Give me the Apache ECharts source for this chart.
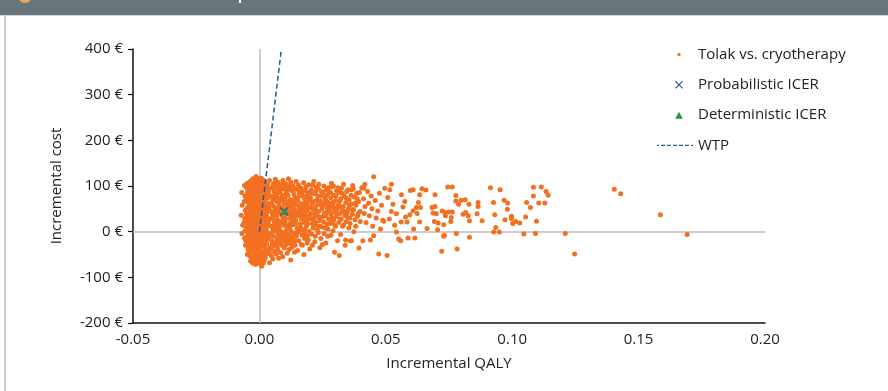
<!DOCTYPE html>
<html>
<head>
<meta charset="utf-8">
<script src="https://cdn.jsdelivr.net/npm/echarts@6/dist/echarts.min.js"></script>
<style>
  html, body { margin: 0; padding: 0; background: #fff; }
  #chart { width: 888px; height: 391px; }
</style>
</head>
<body>
<div id="chart"></div>
<script>
// simulated ICER pairs [incremental QALY, incremental cost €]
var cloudCore = [
  [-0.0070,86],[-0.0068,58],[-0.0072,36],[-0.0066,14],[-0.0069,-4],
  [-0.0059,101],[-0.0057,78],[-0.0060,66],[-0.0056,47],[-0.0058,29],[-0.0061,20],[-0.0057,2],[-0.0059,-14],[-0.0055,-30],
  [-0.0052,97],[-0.0053,70],[-0.0051,40],[-0.0052,9],[-0.0054,-20],
  [-0.0048,106],[-0.0046,93],[-0.0047,85],[-0.0049,73],[-0.0045,65],[-0.0047,53],[-0.0046,45],[-0.0048,33],[-0.0047,25],[-0.0045,13],[-0.0049,5],[-0.0046,-7],[-0.0048,-15],[-0.0047,-27],[-0.0045,-38],[-0.0048,-50],
  [-0.0041,102],[-0.0042,82],[-0.0040,61],[-0.0041,41],[-0.0043,21],[-0.0040,0],[-0.0042,-19],[-0.0041,-45],
  [-0.0035,111],[-0.0037,98],[-0.0036,90],[-0.0034,78],[-0.0038,70],[-0.0036,58],[-0.0035,50],[-0.0037,38],[-0.0036,30],[-0.0034,18],[-0.0038,10],[-0.0036,-2],[-0.0035,-10],[-0.0037,-22],[-0.0036,-30],[-0.0034,-42],[-0.0038,-53],[-0.0035,-64],
  [-0.0030,108],[-0.0031,87],[-0.0029,67],[-0.0030,47],[-0.0032,27],[-0.0029,7],[-0.0031,-13],[-0.0030,-33],[-0.0032,-58],
  [-0.0026,116],[-0.0024,103],[-0.0025,95],[-0.0027,83],[-0.0023,75],[-0.0025,63],[-0.0026,55],[-0.0024,43],[-0.0025,35],[-0.0027,23],[-0.0023,15],[-0.0025,3],[-0.0026,-5],[-0.0024,-17],[-0.0025,-25],[-0.0027,-37],[-0.0023,-46],[-0.0025,-58],[-0.0026,-69],
  [-0.0019,113],[-0.0020,93],[-0.0018,72],[-0.0019,52],[-0.0021,32],[-0.0018,12],[-0.0020,-8],[-0.0019,-28],[-0.0021,-48],[-0.0018,-65],
  [-0.0013,121],[-0.0015,108],[-0.0014,98],[-0.0012,88],[-0.0016,78],[-0.0014,68],[-0.0013,58],[-0.0015,48],[-0.0014,38],[-0.0012,28],[-0.0016,18],[-0.0014,8],[-0.0013,-2],[-0.0015,-12],[-0.0014,-22],[-0.0012,-32],[-0.0016,-42],[-0.0014,-52],[-0.0013,-62],[-0.0015,-72],
  [-0.0008,117],[-0.0009,97],[-0.0007,77],[-0.0008,57],[-0.0010,37],[-0.0007,17],[-0.0009,-3],[-0.0008,-23],[-0.0010,-43],[-0.0007,-62],
  [-0.0004,112],[-0.0002,102],[-0.0003,92],[-0.0005,82],[-0.0001,72],[-0.0003,62],[-0.0004,52],[-0.0002,42],[-0.0003,32],[-0.0005,22],[-0.0001,12],[-0.0003,2],[-0.0004,-8],[-0.0002,-18],[-0.0003,-28],[-0.0005,-38],[-0.0001,-48],[-0.0003,-58],[-0.0004,-67],
  [0.0003,108],[0.0002,90],[0.0004,71],[0.0003,51],[0.0001,31],[0.0004,11],[0.0002,-9],[0.0003,-29],[0.0001,-51],[0.0004,-71],
  [0.0007,117],[0.0009,106],[0.0008,96],[0.0006,86],[0.0010,76],[0.0008,66],[0.0007,56],[0.0009,46],[0.0008,36],[0.0006,26],[0.0010,16],[0.0008,6],[0.0007,-4],[0.0009,-14],[0.0008,-24],[0.0006,-34],[0.0010,-44],[0.0008,-55],[0.0007,-66],[0.0009,-76],
  [0.0014,113],[0.0013,93],[0.0015,73],[0.0014,53],[0.0012,33],[0.0015,13],[0.0013,-7],[0.0014,-27],[0.0012,-47],[0.0015,-69],
  [0.0020,110],[0.0018,99],[0.0019,89],[0.0021,79],[0.0017,69],[0.0019,59],[0.0020,49],[0.0018,39],[0.0019,29],[0.0021,19],[0.0017,9],[0.0019,-1],[0.0020,-11],[0.0018,-21],[0.0019,-31],[0.0021,-41],[0.0017,-52],[0.0019,-63],
  [0.0025,98],[0.0024,78],[0.0026,58],[0.0025,38],[0.0023,18],[0.0026,-2],[0.0024,-22],[0.0025,-43],[0.0023,-57],
  [0.0031,104],[0.0029,93],[0.0030,83],[0.0032,73],[0.0028,63],[0.0030,53],[0.0031,43],[0.0029,33],[0.0030,23],[0.0032,13],[0.0028,3],[0.0030,-7],[0.0031,-17],[0.0029,-27],[0.0030,-38],[0.0032,-49]
];

var cloudNear = [
  [0.0036,87],[0.0038,52],[0.0035,20],[0.0037,-12],[0.0039,-44],
  [0.0040,112],[0.0042,95],[0.0045,78],[0.0041,60],[0.0048,44],[0.0043,28],[0.0046,12],[0.0044,-4],[0.0049,-20],[0.0042,-35],[0.0047,-52],[0.0040,-68],
  [0.0050,96],[0.0048,63],[0.0051,30],[0.0049,-2],[0.0047,-36],
  [0.0055,104],[0.0058,88],[0.0053,71],[0.0057,55],[0.0052,38],[0.0059,22],[0.0054,6],[0.0056,-10],[0.0051,-27],[0.0058,-43],[0.0053,-60],
  [0.0060,106],[0.0058,73],[0.0061,41],[0.0059,9],[0.0062,-24],
  [0.0063,115],[0.0066,97],[0.0062,81],[0.0068,66],[0.0064,49],[0.0067,33],[0.0061,17],[0.0065,1],[0.0069,-16],[0.0063,-32],[0.0066,-49],
  [0.0070,99],[0.0068,82],[0.0070,50],[0.0069,17],[0.0071,-32],
  [0.0073,108],[0.0076,91],[0.0071,74],[0.0078,58],[0.0074,41],[0.0072,25],[0.0077,9],[0.0075,-7],[0.0079,-24],[0.0073,-40],[0.0076,-58],
  [0.0080,92],[0.0079,66],[0.0080,44],[0.0078,12],[0.0081,-21],
  [0.0084,100],[0.0082,85],[0.0087,68],[0.0083,52],[0.0088,36],[0.0085,19],[0.0081,3],[0.0086,-13],[0.0089,-30],[0.0084,-46],
  [0.0089,104],[0.0088,76],[0.0090,52],[0.0089,22],[0.0090,-8],
  [0.0093,112],[0.0096,94],[0.0092,77],[0.0098,61],[0.0094,30],[0.0097,14],[0.0091,-2],[0.0095,-19],[0.0099,-36],[0.0092,-55],
  [0.0100,97],[0.0099,80],[0.0101,47],[0.0100,30],[0.0100,-3],[0.0101,-20],
  [0.0104,105],[0.0107,88],[0.0102,72],[0.0109,55],[0.0105,38],[0.0101,22],[0.0108,5],[0.0103,-12],[0.0106,-28],[0.0110,-47],
  [0.0110,92],[0.0111,64],[0.0109,39],[0.0110,14],[0.0111,-13],
  [0.0115,116],[0.0118,97],[0.0113,80],[0.0117,63],[0.0112,46],[0.0119,29],[0.0114,13],[0.0116,-5],[0.0111,-22],[0.0118,-39],
  [0.0120,100],[0.0121,58],[0.0119,44],[0.0120,8],[0.0121,-26],
  [0.0124,108],[0.0127,90],[0.0122,70],[0.0128,52],[0.0125,35],[0.0121,18],[0.0126,0],[0.0123,-17],[0.0129,-34],[0.0124,-62],
  [0.0130,90],[0.0129,57],[0.0130,40],[0.0131,23],[0.0130,-12],
  [0.0134,100],[0.0137,82],[0.0132,66],[0.0138,48],[0.0135,31],[0.0131,15],[0.0136,-3],[0.0133,-24],[0.0139,-45],
  [0.0140,74],[0.0141,66],[0.0139,33],[0.0140,16],[0.0141,-20],
  [0.0145,110],[0.0143,93],[0.0148,75],[0.0142,58],[0.0147,41],[0.0144,24],[0.0149,7],[0.0146,-10],[0.0141,-30],
  [0.0150,94],[0.0150,59],[0.0149,43],[0.0151,-2],
  [0.0155,102],[0.0158,85],[0.0153,68],[0.0157,51],[0.0152,34],[0.0159,17],[0.0154,-1],[0.0156,-20],[0.0151,-41],
  [0.0160,86],[0.0161,53],[0.0159,36],[0.0160,3],
  [0.0165,95],[0.0162,78],[0.0168,61],[0.0164,44],[0.0167,27],[0.0163,10],[0.0169,-8],[0.0166,-28],
  [0.0170,80],[0.0171,47],[0.0169,30],[0.0170,-30],
  [0.0175,107],[0.0172,89],[0.0178,72],[0.0174,55],[0.0171,38],[0.0177,20],[0.0173,3],[0.0179,-15],[0.0176,-50],
  [0.0180,90],[0.0180,55],[0.0181,37],[0.0179,5],
  [0.0184,98],[0.0188,80],[0.0183,64],[0.0187,46],[0.0182,29],[0.0186,12],[0.0181,-6],[0.0189,-25],
  [0.0190,76],[0.0189,61],[0.0191,27],[0.0190,-10],
  [0.0195,103],[0.0192,86],[0.0198,69],[0.0194,52],[0.0197,35],[0.0191,18],[0.0196,1],[0.0193,-18],[0.0199,-38]
];

var cloudMid = [
  [0.0205,92],[0.0208,60],[0.0203,40],[0.0209,18],[0.0206,-5],[0.0202,75],
  [0.0201,52],[0.0204,84],[0.0207,28],[0.0210,-30],[0.0211,102],[0.0214,66],[0.0216,40],[0.0220,20],
  [0.0215,110],[0.0218,83],[0.0213,50],[0.0217,30],[0.0212,8],[0.0219,-22],
  [0.0223,88],[0.0226,46],[0.0229,4],[0.0231,60],[0.0233,94],[0.0237,32],[0.0240,12],
  [0.0225,97],[0.0228,70],[0.0222,55],[0.0227,36],[0.0224,14],[0.0221,-10],
  [0.0235,104],[0.0232,78],[0.0238,62],[0.0234,44],[0.0236,24],[0.0233,-2],[0.0239,-35],
  [0.0241,78],[0.0246,56],[0.0249,-28],[0.0251,86],[0.0253,34],[0.0259,62],[0.0261,8],
  [0.0245,88],[0.0242,67],[0.0248,49],[0.0244,30],[0.0247,10],[0.0243,-15],
  [0.0255,100],[0.0258,76],[0.0252,58],[0.0257,40],[0.0254,21],[0.0256,-4],
  [0.0266,80],[0.0269,44],[0.0270,-10],[0.0273,96],[0.0277,55],[0.0279,18],
  [0.0265,92],[0.0262,70],[0.0268,53],[0.0264,35],[0.0267,16],[0.0263,-25],
  [0.0275,85],[0.0272,64],[0.0278,47],[0.0274,27],[0.0271,6],
  [0.0281,86],[0.0286,30],[0.0289,64],[0.0293,100],[0.0296,52],[0.0299,14],
  [0.0285,106],[0.0285,98],[0.0282,74],[0.0288,56],[0.0284,38],[0.0287,19],[0.0283,-8],
  [0.0295,80],[0.0292,61],[0.0298,44],[0.0294,25],[0.0291,2],[0.0297,-45],
  [0.0303,78],[0.0306,40],[0.0309,-20],[0.0311,96],[0.0317,66],[0.0319,28],
  [0.0305,90],[0.0302,68],[0.0308,50],[0.0304,33],[0.0301,12],
  [0.0315,86],[0.0312,58],[0.0318,40],[0.0314,20],[0.0316,-52],
  [0.0323,54],[0.0327,84],[0.0329,12],[0.0333,104],[0.0336,44],[0.0339,-30],
  [0.0325,95],[0.0322,72],[0.0328,46],[0.0324,28],[0.0321,-6],
  [0.0335,78],[0.0332,55],[0.0338,36],[0.0334,15],
  [0.0343,74],[0.0347,32],[0.0351,92],[0.0356,58],[0.0359,18],
  [0.0345,88],[0.0342,64],[0.0348,42],[0.0344,22],[0.0341,-18],
  [0.0355,70],[0.0352,50],[0.0358,30],[0.0354,8],[0.0360,-20],
  [0.0363,80],[0.0367,48],[0.0371,94],[0.0377,62],[0.0381,12],
  [0.0369,101],[0.0365,92],[0.0362,60],[0.0368,38],[0.0364,-20],
  [0.0375,76],[0.0372,48],[0.0378,26],[0.0374,0],
  [0.0387,72],[0.0391,40],[0.0396,86],[0.0399,22],
  [0.0385,84],[0.0382,58],[0.0388,34],[0.0394,-36],[0.0392,66],[0.0398,44],
  [0.0405,96],[0.0409,-20],[0.0412,72],[0.0413,95],[0.0417,104],[0.0415,40],[0.0418,55],[0.0422,20],[0.0428,88],[0.0432,62],[0.0435,35],[0.0439,-18],[0.0442,78],[0.0445,50],[0.0448,12],
  [0.0452,120],[0.0452,-9],[0.0458,68],[0.0462,30],[0.0468,45],[0.0472,-49],[0.0475,84],[0.0479,6],[0.0483,58],[0.0488,25],[0.0492,23],[0.0496,95],
  [0.0505,-52],[0.0508,75],[0.0514,28],[0.0516,92],[0.0522,104],[0.0522,44],[0.0528,60],[0.0535,14],[0.0542,39],[0.0542,-1],[0.0551,-16],[0.0559,-20],
  [0.0561,21],[0.0562,81],[0.0568,54],[0.0575,66],[0.0578,32],[0.0584,21],[0.0588,-14],[0.0595,37],[0.0597,90],
  [0.0608,92],[0.0608,46],[0.0610,6],[0.0615,-14],[0.0621,53],[0.0624,40],[0.0629,64],[0.0634,81],[0.0634,21],[0.0637,53],[0.0643,94],[0.0659,91],[0.0663,7]
];

var cloudTail = [
  [0.0745,98],[0.0763,98],[0.0695,81],[0.0777,79],[0.0777,67],[0.0798,69],[0.0814,70],[0.0788,60],[0.0829,60],
  [0.0683,53],[0.0695,55],[0.0687,41],[0.0700,39],[0.0723,45],[0.0734,42],[0.0749,43],[0.0763,43],[0.0736,35],
  [0.0759,31],[0.0806,38],[0.0816,42],[0.0826,35],[0.0831,24],[0.0692,22],[0.0707,19],[0.0729,15],[0.0757,22],
  [0.0705,4],[0.0779,-4],[0.0732,-8],[0.0729,-10],[0.0831,-12],[0.0721,-43],[0.0782,-38],
  [0.0914,96],[0.0952,92],[0.0865,64],[0.0865,55],[0.0926,64],[0.0968,69],[0.0982,63],[0.0981,49],[0.0861,39],
  [0.0931,37],[0.0881,24],[0.0972,26],[0.0997,34],[0.0997,29],[0.1002,18],[0.1014,22],[0.1030,19],[0.1053,32],
  [0.0935,9],[0.0927,-1],[0.0949,-1],[0.1046,-5],[0.1057,64],
  [0.1084,97],[0.1115,98],[0.1084,78],[0.1134,88],[0.1142,80],[0.1105,63],[0.1129,63],[0.1072,53],[0.1096,23],
  [0.1092,-4],[0.1210,-4],[0.1247,-49],[0.1404,93],[0.1429,83],[0.1586,37],[0.1692,-6]
];

var probIcer = [[0.0098, 44]];
var detIcer = [[0.0100, 45]];
var wtpLine = [[0, 0], [0.0087, 400]];

var seriesNames = ['Tolak vs. cryotherapy', 'Probabilistic ICER', 'Deterministic ICER', 'WTP'];

var ORANGE = '#F37021';
var BLUE = '#2B54A8';
var GREEN = '#1E9A4A';
var FONT = 'Open Sans';
var FS = 15;

// legend icons are drawn inside a 36x10 box (the two M points pin the box)
var BOX = 'path://M0,0M36,10';
var iconDot = BOX + 'M20.3,5L20.8,3.8L22,3.3L23.2,3.8L23.7,5L23.2,6.2L22,6.7L20.8,6.2Z';
var iconCross = BOX + 'M18,1.8L18.8,1L22,4.2L25.2,1L26,1.8L22.8,5L26,8.2L25.2,9L22,5.8L18.8,9L18,8.2L21.2,5Z';
var iconTri = BOX + 'M18.2,8.6L22,1.6L25.8,8.6Z';
var iconDash = BOX + 'M0,4.4h2v1.2h-2zM4,4.4h4v1.2h-4zM10,4.4h4v1.2h-4zM16,4.4h4v1.2h-4zM22,4.4h4v1.2h-4zM28,4.4h4v1.2h-4zM34,4.4h2v1.2h-2z';
var crossSymbol = 'path://M0,0.9L0.9,0L4,3.1L7.1,0L8,0.9L4.9,4L8,7.1L7.1,8L4,4.9L0.9,8L0,7.1L3.1,4Z';

var myChart = echarts.init(document.getElementById('chart'), null, { renderer: 'canvas' });

var option = {
  animation: false,
  backgroundColor: '#fff',
  textStyle: { fontFamily: FONT },
  graphic: [
    { type: 'rect', left: 0, top: 0, shape: { width: 888, height: 15 }, style: { fill: '#68757C' }, silent: true },
    { type: 'line', shape: { x1: 0, y1: 15.5, x2: 888, y2: 15.5 }, style: { stroke: '#D0D4D6', lineWidth: 1 }, silent: true },
    { type: 'line', shape: { x1: 5, y1: 16, x2: 5, y2: 391 }, style: { stroke: '#BDBDBD', lineWidth: 1.5 }, silent: true },
    { type: 'circle', shape: { cx: 25, cy: -4, r: 7 }, style: { fill: '#F3A25E' }, silent: true },
    { type: 'rect', shape: { x: 239, y: 0, width: 2, height: 3 }, style: { fill: '#FFFFFF' }, silent: true }
  ],
  grid: { left: 133, right: 123, top: 49, bottom: 68 },
  legend: {
    orient: 'vertical',
    left: 652,
    top: 42,
    itemWidth: 36,
    itemHeight: 10,
    itemGap: 15.3,
    selectedMode: false,
    itemStyle: { borderWidth: 0 },
    textStyle: { fontFamily: FONT, fontSize: FS, color: '#222' },
    data: [
      { name: seriesNames[0], icon: iconDot },
      { name: seriesNames[1], icon: iconCross },
      { name: seriesNames[2], icon: iconTri },
      { name: seriesNames[3], icon: iconDash }
    ]
  },
  xAxis: {
    type: 'value',
    min: -0.05,
    max: 0.2,
    interval: 0.05,
    name: 'Incremental QALY',
    nameLocation: 'middle',
    nameGap: 33,
    nameTextStyle: { fontFamily: FONT, fontSize: FS, color: '#222' },
    axisLine: { onZero: false, lineStyle: { color: '#111', width: 1.5 } },
    axisTick: { show: false },
    axisLabel: {
      fontFamily: FONT, fontSize: FS, color: '#222', margin: 9,
      formatter: function (v) { return v.toFixed(2); }
    },
    splitLine: { show: false }
  },
  yAxis: {
    type: 'value',
    min: -200,
    max: 400,
    interval: 100,
    name: 'Incremental cost',
    nameLocation: 'middle',
    nameGap: 69,
    nameTextStyle: { fontFamily: FONT, fontSize: FS, color: '#222' },
    axisLine: { show: true, onZero: false, lineStyle: { color: '#111', width: 1.5 } },
    axisTick: { show: true, length: 5, lineStyle: { color: '#111', width: 1.2 } },
    axisLabel: { fontFamily: FONT, fontSize: FS, color: '#222', margin: 10, formatter: '{value} €' },
    splitLine: { show: false }
  },
  series: [
    {
      name: seriesNames[0],
      type: 'scatter',
      z: 2,
      symbol: 'circle',
      symbolSize: 5,
      itemStyle: { color: ORANGE, opacity: 1 },
      emphasis: { disabled: true },
      data: cloudCore.concat(cloudNear, cloudMid, cloudTail),
      markLine: {
        z: 1,
        silent: true,
        symbol: ['none', 'none'],
        label: { show: false },
        lineStyle: { color: '#BBBBBB', width: 1.5, type: 'solid' },
        emphasis: { disabled: true },
        data: [{ xAxis: 0 }, { yAxis: 0 }]
      }
    },
    {
      name: seriesNames[1],
      type: 'scatter',
      z: 4,
      symbol: crossSymbol,
      symbolSize: 9,
      itemStyle: { color: BLUE, opacity: 1 },
      emphasis: { disabled: true },
      data: probIcer
    },
    {
      name: seriesNames[2],
      type: 'scatter',
      z: 5,
      symbol: 'triangle',
      symbolSize: [8, 7],
      itemStyle: { color: GREEN, opacity: 1 },
      emphasis: { disabled: true },
      data: detIcer
    },
    {
      name: seriesNames[3],
      type: 'line',
      z: 3,
      symbol: 'none',
      itemStyle: { color: BLUE },
      lineStyle: { color: BLUE, width: 1.5, type: [5, 3] },
      emphasis: { disabled: true },
      data: wtpLine
    }
  ]
};

myChart.setOption(option);
</script>
</body>
</html>
